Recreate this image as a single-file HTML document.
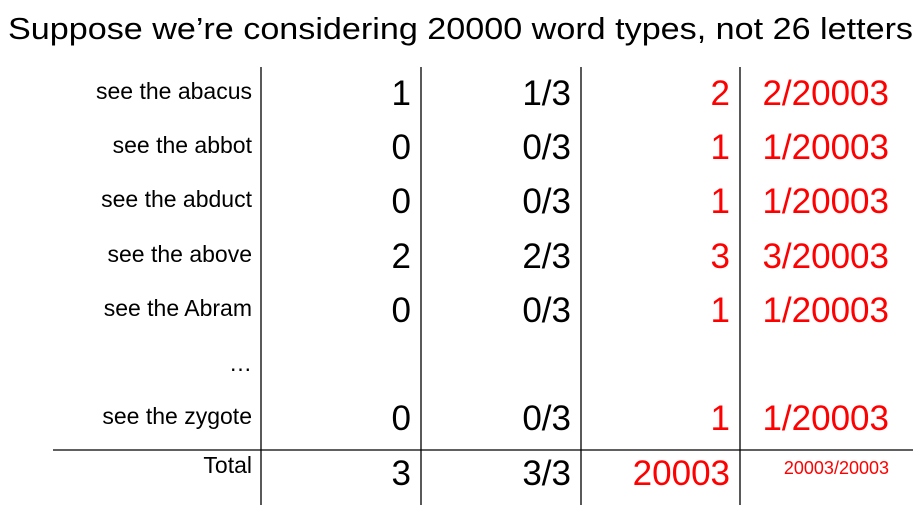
<!DOCTYPE html>
<html><head><meta charset="utf-8"><style>
html,body{margin:0;padding:0;background:#fff;width:921px;height:521px;overflow:hidden}
text{font-family:"Liberation Sans",sans-serif}
</style></head><body>
<svg width="921" height="521" xmlns="http://www.w3.org/2000/svg">
<text x="8" y="39" font-size="31" textLength="905" lengthAdjust="spacingAndGlyphs">Suppose we’re considering 20000 word types, not 26 letters</text>
<g stroke="#000" stroke-width="1.3">
<line x1="261" y1="67" x2="261" y2="505"/><line x1="421" y1="67" x2="421" y2="505"/>
<line x1="581" y1="67" x2="581" y2="505"/><line x1="740" y1="67" x2="740" y2="505"/>
<line x1="53" y1="450" x2="913" y2="450"/>
</g>
<g id="rows"></g>
</svg>
<script>
const labels=["see the abacus","see the abbot","see the abduct","see the above","see the Abram","…","see the zygote","Total"];
const counts=["1","0","0","2","0","","0","3"];
const probs=["1/3","0/3","0/3","2/3","0/3","","0/3","3/3"];
const smoothed=["2","1","1","3","1","","1","20003"];
const smoothedProbs=["2/20003","1/20003","1/20003","3/20003","1/20003","","1/20003","20003/20003"];
const ys=[100,154,208,263,317,372,425,480];
const g=document.getElementById('rows');
function t(x,y,s,size,fill,name){const e=document.createElementNS('http://www.w3.org/2000/svg','text');
e.setAttribute('x',x);e.setAttribute('y',y);e.setAttribute('font-size',size);e.setAttribute('fill',fill);e.setAttribute('text-anchor','end');e.textContent=s;


g.appendChild(e);}
labels.forEach((l,i)=>{
 const y=ys[i];
 t(252,i===7?y-7:y-1,l,23,'#000','row-label');
 t(411,y+5,counts[i],35,'#000','count-cell');
 t(571,y+5,probs[i],35,'#000','prob-cell');
 t(730,y+5,smoothed[i],35,'#f00','smoothed-count-cell');
 if(i===7)t(889,y-6,smoothedProbs[i],18,'#f00','smoothed-prob-cell');
 else t(889,y+5,smoothedProbs[i],35,'#f00','smoothed-prob-cell');
});
</script>
</body></html>
